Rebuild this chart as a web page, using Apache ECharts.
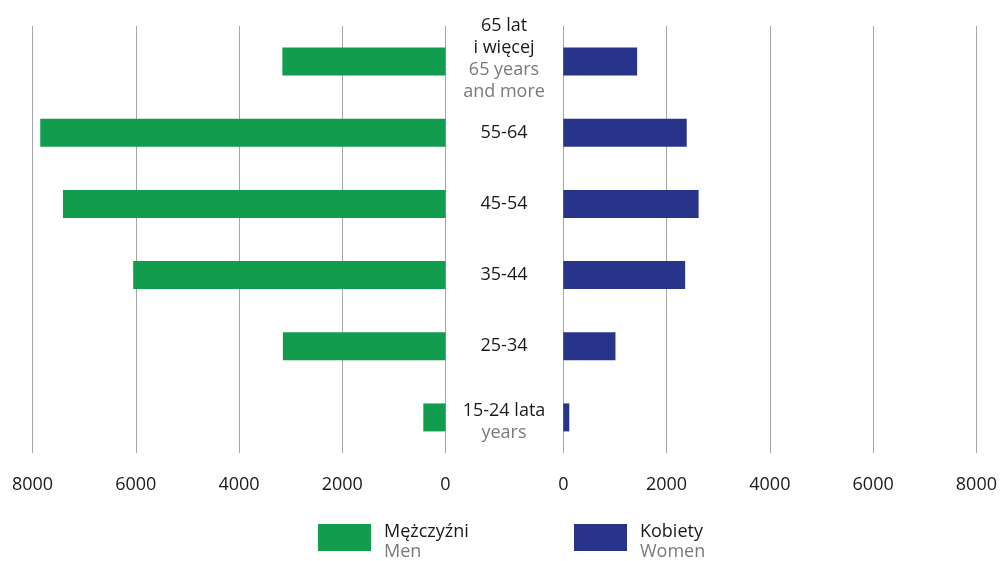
<!DOCTYPE html>
<html><head><meta charset="utf-8">
<script src="https://cdn.jsdelivr.net/npm/echarts@6/dist/echarts.min.js"></script>
<style>html,body{margin:0;padding:0;background:#fff}#c{width:1000px;height:561px}</style>
</head><body><div id="c"></div>
<script>
const categoriesPL = ['65 lat\ni więcej', '55-64', '45-54', '35-44', '25-34', '15-24 lata'];
const categoriesEN = ['65 years\nand more', '', '', '', '', 'years'];
const menValues = [3160, 7850, 7410, 6050, 3150, 430];
const womenValues = [1430, 2390, 2620, 2360, 1010, 116];
const tickValues = [0, 2000, 4000, 6000, 8000];
const seriesNames = ['Mężczyźni', 'Kobiety'];
const seriesNamesEN = ['Men', 'Women'];

const FONT = '"Open Sans", "Noto Sans", sans-serif';
const GREEN = '#129c4e', BLUE = '#28348a';
const GRID_COLOR = '#a6a6a6';

function catLabel(i) {
  const pl = categoriesPL[i].split('\n').map(s => '{a|' + s + '}');
  const en = categoriesEN[i] ? categoriesEN[i].split('\n').map(s => '{b|' + s + '}') : [];
  return pl.concat(en).join('\n');
}
const catData = categoriesPL.map((c, i) => {
  const item = { value: c };
  if (i === 0) item.textStyle = { align: 'center', padding: [0, 0, 6, 0] };
  if (i === categoriesPL.length - 1) item.textStyle = { align: 'center', padding: [8, 0, 0, 0] };
  return item;
});

const valueAxisCommon = {
  type: 'value', min: tickValues[0], max: tickValues[tickValues.length - 1], interval: 2000,
  axisLine: { show: false }, axisTick: { show: false },
  splitLine: { show: true, lineStyle: { color: GRID_COLOR, width: 1 } },
  axisLabel: { fontFamily: FONT, fontSize: 18, color: '#1a1a1a', margin: 23, formatter: v => String(v) }
};

const richStyles = {
  a: { fontFamily: FONT, fontSize: 18, color: '#1a1a1a', lineHeight: 22, align: 'center' },
  b: { fontFamily: FONT, fontSize: 18, color: '#7a7a7a', lineHeight: 22, align: 'center' }
};
const legendRich = {
  a: { fontFamily: FONT, fontSize: 18, color: '#1a1a1a', lineHeight: 20 },
  b: { fontFamily: FONT, fontSize: 18, color: '#7a7a7a', lineHeight: 20 }
};

const option = {
  animation: false,
  backgroundColor: '#fff',
  grid: [
    { left: 32.5, right: 554.5, top: 26, bottom: 108 },
    { left: 563.3, right: 23, top: 26, bottom: 108 }
  ],
  xAxis: [
    Object.assign({ gridIndex: 0, inverse: true }, valueAxisCommon),
    Object.assign({ gridIndex: 1 }, valueAxisCommon)
  ],
  yAxis: [
    {
      gridIndex: 0, type: 'category', inverse: true, position: 'right',
      data: catData,
      axisLine: { show: false }, axisTick: { show: false },
      axisLabel: {
        align: 'center', margin: 58.5, interval: 0,
        formatter: (v, i) => catLabel(i),
        rich: richStyles
      }
    },
    {
      gridIndex: 1, type: 'category', inverse: true,
      data: categoriesPL,
      axisLine: { show: false }, axisTick: { show: false }, axisLabel: { show: false }
    }
  ],
  legend: [
    {
      data: [seriesNames[0]], left: 318, top: 522.5, icon: 'rect', padding: 0,
      itemWidth: 53, itemHeight: 27, itemGap: 0,
      formatter: n => '{a|' + n + '}\n{b|' + seriesNamesEN[0] + '}',
      textStyle: { padding: [8, 0, 0, 8], rich: legendRich }
    },
    {
      data: [seriesNames[1]], left: 574, top: 522.5, icon: 'rect', padding: 0,
      itemWidth: 53, itemHeight: 27, itemGap: 0,
      formatter: n => '{a|' + n + '}\n{b|' + seriesNamesEN[1] + '}',
      textStyle: { padding: [8, 0, 0, 8], rich: legendRich }
    }
  ],
  series: [
    { name: seriesNames[0], type: 'bar', xAxisIndex: 0, yAxisIndex: 0, data: menValues,
      barWidth: 28, itemStyle: { color: GREEN }, silent: true },
    { name: seriesNames[1], type: 'bar', xAxisIndex: 1, yAxisIndex: 1, data: womenValues,
      barWidth: 28, itemStyle: { color: BLUE }, silent: true }
  ]
};
const chart = echarts.init(document.getElementById('c'), null, { renderer: 'canvas' });
chart.setOption(option);
</script>
</body></html>
